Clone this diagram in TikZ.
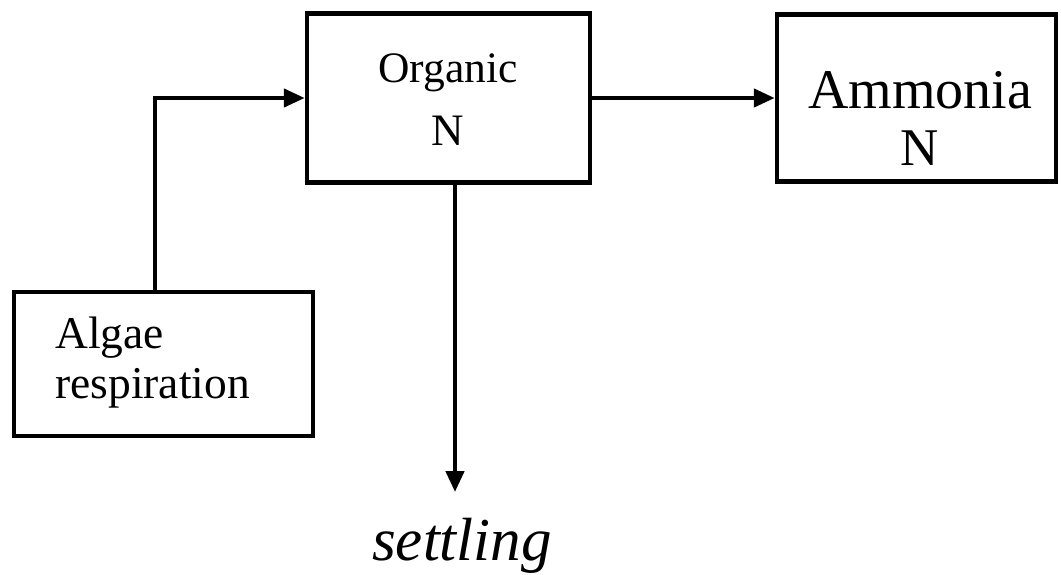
\documentclass[tikz,border=0pt]{standalone}
\usepackage{fontspec}
\setmainfont{Liberation Serif}
\usetikzlibrary{arrows.meta,calc}
\begin{document}
\begin{tikzpicture}[x=1pt,y=-1pt,
  box/.style={draw,line width=4.5pt,inner sep=0pt,minimum width=#1},
  arr/.style={line width=4.5pt,-{Triangle[length=21pt,width=18pt]}},
  lbl/.style={inner sep=0pt,anchor=base}]
\useasboundingbox (0,0) rectangle (1061,574);
\node[box=283pt,minimum height=169pt] (org) at (448.5,98) {};
\node[box=279pt,minimum height=167pt] (amm) at (916.5,98) {};
\node[box=299pt,minimum height=144pt] (alg) at (163.5,364) {};
\node[lbl] (orgt) at (448,82) {\fontsize{43.5}{50}\selectfont Organic};
\node[lbl] (orgn) at (448,145) {\fontsize{45}{50}\selectfont N};
\node[lbl] (ammt) at (920,108) {\fontsize{56}{60}\selectfont Ammonia};
\node[lbl] (ammn) at (920,165) {\fontsize{53}{60}\selectfont N};
\node[lbl,anchor=base west] (algt) at (55,348) {\fontsize{45.5}{50}\selectfont Algae};
\node[lbl,anchor=base west] (algr) at (55,398) {\fontsize{45.5}{50}\selectfont respiration};
\node[lbl] (settle) at (462,560) {\fontsize{61}{66}\selectfont\itshape settling};
\coordinate (down) at (455,492);
\draw[arr] ($(alg.north west)!0.472!(alg.north east)$) |- (org.west);
\draw[arr] (org.east) -- (amm.west);
\draw[arr] (down |- org.south) -- (down);
\end{tikzpicture}
\end{document}
